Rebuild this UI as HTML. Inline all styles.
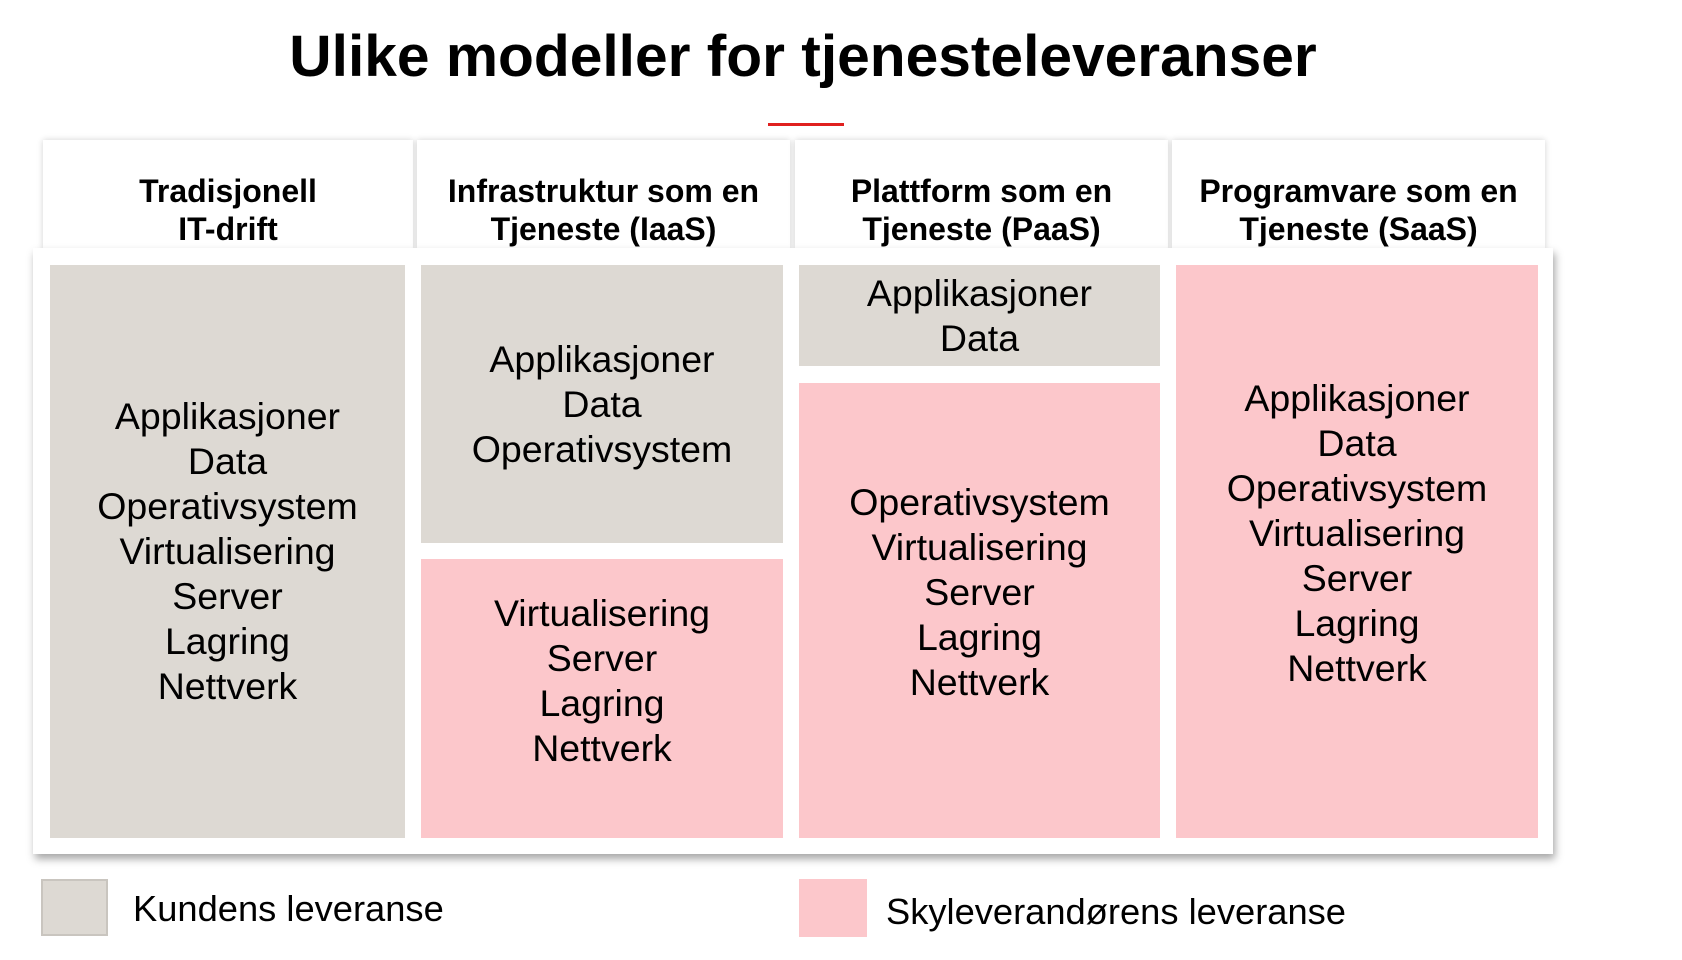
<!DOCTYPE html>
<html><head><meta charset="utf-8"><style>
*{margin:0;padding:0;box-sizing:border-box}
body{width:1682px;height:960px;background:#fff;position:relative;overflow:hidden;font-family:"Liberation Sans",Arial,sans-serif;color:#000}
.a{position:absolute}
.title{left:0;width:1606px;top:22px;text-align:center;font-weight:bold;font-size:58.7px;line-height:70px}
.red{left:768px;top:123px;width:76px;height:3px;background:#e0201f}
.hd{top:140px;height:110px;background:#fff;box-shadow:0 0 6px rgba(0,0,0,0.18);text-align:center;font-weight:bold;font-size:32px;line-height:38px;padding-top:32px;white-space:nowrap}
.box{left:33px;top:248px;width:1520px;height:606px;background:#fff;box-shadow:2px 5px 8px rgba(0,0,0,0.35)}
.c{display:flex;align-items:center;justify-content:center;text-align:center;font-size:37.5px;line-height:45px;white-space:nowrap}
.g{background:#ddd9d3}
.p{background:#fcc7cb;padding-bottom:36px}
.lg{font-size:36.3px;line-height:40px}
</style></head><body>
<div class="a title">Ulike modeller for tjenesteleveranser</div>
<div class="a red"></div>
<div class="a hd" style="left:43px;width:370px">Tradisjonell<br>IT-drift</div>
<div class="a hd" style="left:417px;width:373px">Infrastruktur som en<br>Tjeneste (IaaS)</div>
<div class="a hd" style="left:795px;width:373px">Plattform som en<br>Tjeneste (PaaS)</div>
<div class="a hd" style="left:1172px;width:373px">Programvare som en<br>Tjeneste (SaaS)</div>
<div class="a box"></div>
<div class="a c g" style="left:50px;top:265px;width:355px;height:573px">Applikasjoner<br>Data<br>Operativsystem<br>Virtualisering<br>Server<br>Lagring<br>Nettverk</div>
<div class="a c g" style="left:421px;top:265px;width:362px;height:278px">Applikasjoner<br>Data<br>Operativsystem</div>
<div class="a c p" style="left:421px;top:559px;width:362px;height:279px">Virtualisering<br>Server<br>Lagring<br>Nettverk</div>
<div class="a c g" style="left:799px;top:265px;width:361px;height:101px">Applikasjoner<br>Data</div>
<div class="a c p" style="left:799px;top:383px;width:361px;height:455px">Operativsystem<br>Virtualisering<br>Server<br>Lagring<br>Nettverk</div>
<div class="a c p" style="left:1176px;top:265px;width:362px;height:573px">Applikasjoner<br>Data<br>Operativsystem<br>Virtualisering<br>Server<br>Lagring<br>Nettverk</div>
<div class="a" style="left:41px;top:879px;width:67px;height:57px;background:#ddd9d3;border:2px solid #c9c5bf"></div>
<div class="a lg" style="left:133px;top:889px">Kundens leveranse</div>
<div class="a" style="left:799px;top:879px;width:68px;height:58px;background:#fcc7cb"></div>
<div class="a lg" style="left:886px;top:892px">Skyleverandørens leveranse</div>
</body></html>
